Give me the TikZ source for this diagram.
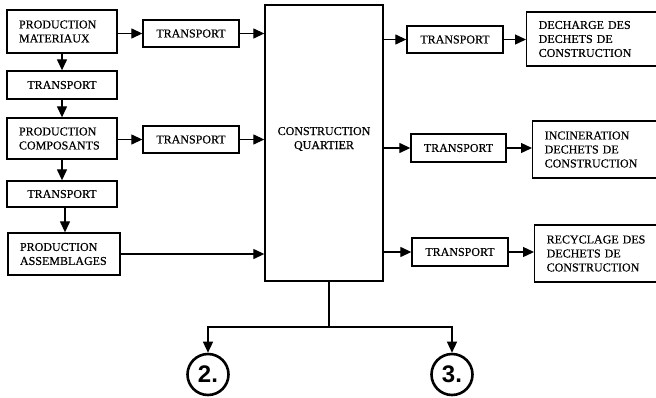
\documentclass[tikz,border=0pt]{standalone}
\usepackage{fontspec}
\setmainfont{Liberation Serif}[FakeBold=0.5]
\newfontfamily\labelsans{Liberation Sans}
\usetikzlibrary{arrows.meta,positioning}

\begin{document}
\begin{tikzpicture}[x=1pt,y=-1pt,
  every node/.style={font=\fontsize{12}{14}\selectfont},
  box/.style={draw,line width=1.35pt,rectangle,inner sep=0pt},
  txtbox/.style={box,inner xsep=12pt,align=left},
  flow/.style={line width=1.3pt,-{Triangle[length=11pt,width=10pt]}},
  plain/.style={line width=1.3pt},
  refmark/.style={draw,circle,line width=2.6pt,minimum size=41pt,inner sep=0pt,
    font=\labelsans\bfseries\fontsize{24}{24}\selectfont}]

\useasboundingbox (0,0) rectangle (656,397);
\clip (0,0) rectangle (656,397);

% left production chain
\node[txtbox,minimum width=110pt,minimum height=43pt,text width=86pt]
  (mat) at (62,31.5) {PRODUCTION\\MATERIAUX};
\node[box,minimum width=110pt,minimum height=28pt] (tl1) at (62,85) {TRANSPORT};
\node[txtbox,minimum width=110pt,minimum height=41pt,text width=86pt]
  (comp) at (62,138.5) {PRODUCTION\\COMPOSANTS};
\node[box,minimum width=110pt,minimum height=26pt] (tl2) at (62,194) {TRANSPORT};
\node[txtbox,minimum width=112pt,minimum height=42pt,text width=88pt]
  (ass) at (64,254) {PRODUCTION\\ASSEMBLAGES};

% transports into the building site
\node[box,minimum width=96pt,minimum height=27pt] (tm1) at (191,33.5) {TRANSPORT};
\node[box,minimum width=96pt,minimum height=27pt] (tm2) at (191,139.5) {TRANSPORT};

% building site
\node[box,minimum width=118pt,minimum height=276pt] (cq) at (324,143) {};
\node[align=center,inner sep=0pt] (cqt) at (324,139) {CONSTRUCTION\\QUARTIER};

% transports out of the building site
\node[box,minimum width=96pt,minimum height=27pt] (tr1) at (455,39.5) {TRANSPORT};
\node[box,minimum width=95pt,minimum height=28pt] (tr2) at (458.5,148) {TRANSPORT};
\node[box,minimum width=96pt,minimum height=28pt] (tr3) at (460,252) {TRANSPORT};

% waste destinations (running past the right edge)
\node[txtbox,minimum width=140pt,minimum height=54pt,text width=116pt,anchor=west]
  (dech) at (526,39) {DECHARGE DES\\DECHETS DE\\CONSTRUCTION};
\node[txtbox,minimum width=140pt,minimum height=57pt,text width=116pt,anchor=west]
  (inc) at (532,149.5) {INCINERATION\\DECHETS DE\\CONSTRUCTION};
\node[txtbox,minimum width=140pt,minimum height=57pt,text width=116pt,anchor=west]
  (rec) at (534,253.5) {RECYCLAGE DES\\DECHETS DE\\CONSTRUCTION};

% follow-up markers
\node[refmark] (m2) at (208,374.5) {2.};
\node[refmark] (m3) at (452,374.5) {3.};

% left chain connectors
\draw[flow] (mat) -- (tl1);
\draw[flow] (tl1) -- (comp);
\draw[flow] (comp) -- (tl2);
\draw[flow] (tl2.south -| 65,0) -- (ass.north -| 65,0);

% into the building site
\draw[flow] (tm1.west -| mat.east) -- (tm1.west);
\draw[flow] (tm1.east) -- (tm1.east -| cq.west);
\draw[flow] (tm2.west -| comp.east) -- (tm2.west);
\draw[flow] (tm2.east) -- (tm2.east -| cq.west);
\draw[flow] (ass.east) -- (ass.east -| cq.west);

% out of the building site
\draw[flow] (tr1.west -| cq.east) -- (tr1.west);
\draw[flow] (tr1.east) -- (tr1.east -| dech.west);
\draw[flow] (tr2.west -| cq.east) -- (tr2.west);
\draw[flow] (tr2.east) -- (tr2.east -| inc.west);
\draw[flow] (tr3.west -| cq.east) -- (tr3.west);
\draw[flow] (tr3.east) -- (tr3.east -| rec.west);

% split towards the markers
\coordinate (split) at (329,327);
\draw[plain] (cq.south -| split) -- (split);
\draw[flow] (split) -- (split -| m2) -- (m2.north);
\draw[flow] (split) -- (split -| m3) -- (m3.north);
\end{tikzpicture}
\end{document}
